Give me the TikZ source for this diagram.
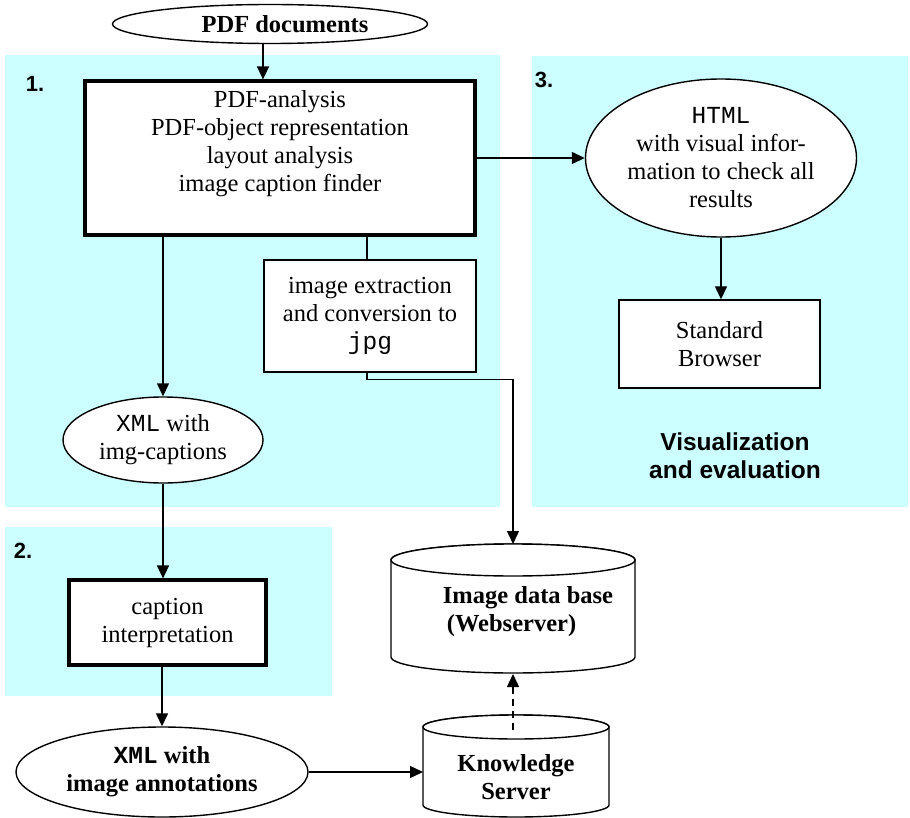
\documentclass[tikz,border=0pt]{standalone}
\usepackage{fontspec}
\setmainfont{Liberation Serif}
\setsansfont{Liberation Sans}
\setmonofont{Liberation Mono}
\usetikzlibrary{shapes.geometric,arrows.meta}
\definecolor{panelcyan}{RGB}{204,255,255}
\begin{document}
\begin{tikzpicture}[x=1pt,y=-1pt,
  every node/.style={font=\fontsize{24.5}{28}\selectfont, align=center},
  boxn/.style={draw, fill=white, line width=1.4pt, inner sep=0pt},
  thickbox/.style={boxn, line width=3.2pt},
  ell/.style={draw, fill=white, ellipse, line width=1.4pt, inner sep=0pt},
  arr/.style={line width=1.4pt, -{Triangle[length=13pt,width=12pt]}},
  conn/.style={line width=1.4pt},
  lbl/.style={font=\sffamily\bfseries\fontsize{22}{26}\selectfont},
  cyl/.style={draw, fill=white, line width=1.4pt}
]
\useasboundingbox (0,0) rectangle (910,818);
% panels
\fill[panelcyan] (5,55) rectangle (500,507);
\fill[panelcyan] (532,56) rectangle (908,507);
\fill[panelcyan] (5,527) rectangle (332,696);

\node[lbl] (l1) at (35,84) {1.};
\node[lbl] (l2) at (23,551) {2.};
\node[lbl] (l3) at (544,80) {3.};

% nodes
\node[ell, minimum width=315pt, minimum height=39pt] (pdf) at (270,24) {\hspace{30pt}\textbf{PDF documents}};
\node[thickbox, minimum width=390pt, minimum height=154pt] (main) at (280,158)
  {PDF-analysis\\PDF-object representation\\layout analysis\\image caption finder\\[6pt]\mbox{}};
\node[ell, minimum width=271pt, minimum height=158pt] (html) at (721,158)
  {\texttt{HTML}\\with visual infor-\\mation to check all\\results};
\node[boxn, minimum width=201pt, minimum height=88pt] (browser) at (719.5,344) {Standard\\Browser};
\node[font=\sffamily\bfseries\fontsize{24.5}{28}\selectfont] (vis) at (735,456) {Visualization\\and evaluation};
\node[boxn, minimum width=212pt, minimum height=112pt] (jpg) at (370,316)
  {image extraction\\and conversion to\\\texttt{jpg}};
\node[ell, minimum width=200pt, minimum height=86pt] (xml1) at (163,440) {\texttt{XML} with\\img-captions};
\node[thickbox, minimum width=197pt, minimum height=85pt] (cap) at (167.5,622.5) {caption\\interpretation};
\node[ell, minimum width=292pt, minimum height=90pt] (xml2) at (162,772)
  {\textbf{\texttt{XML} with}\\\textbf{image annotations}};

% image data base cylinder
\filldraw[cyl] (391,560) -- (391,657) arc[start angle=180,end angle=360,x radius=122pt,y radius=16pt]
  -- (635,560) arc[start angle=0,end angle=180,x radius=122pt,y radius=16pt] -- cycle;
\draw[cyl] (513,560) ellipse[x radius=122pt,y radius=16pt];
\node[align=left] (db) at (528,612) {\textbf{Image data base}\\\hspace{4pt}\textbf{(Webserver)}};
\coordinate (dbtop) at (513,544);
\coordinate (dbbot) at (513,674);

% knowledge server cylinder
\filldraw[cyl] (423,727) -- (423,805) arc[start angle=180,end angle=360,x radius=93pt,y radius=12pt]
  -- (609,727) arc[start angle=0,end angle=180,x radius=93pt,y radius=12pt] -- cycle;
\draw[cyl] (516,727) ellipse[x radius=93pt,y radius=12pt];
\node (ks) at (516,777) {\textbf{Knowledge}\\\textbf{Server}};
\coordinate (kswest) at (423,773);
\coordinate (kstop) at (513,730);

% connectors
\draw[arr] ([xshift=-7pt]pdf.south) -- ([xshift=-17pt]main.north);
\draw[arr] (main.east) -- (html.west);
\draw[arr] (html.south) -- (html.south |- browser.north);
\draw[arr] (xml1.north |- main.south) -- (xml1.north);
\draw[conn] ([xshift=-3pt]jpg.north) -- ([xshift=-3pt]jpg.north |- main.south);
\draw[arr] ([xshift=-3pt]jpg.south) -- ++(0,7) -| (dbtop);
\draw[arr] (xml1.south) -- (xml1.south |- cap.north);
\draw[arr] (xml2.north |- cap.south) -- (xml2.north);
\draw[arr] (xml2.east) -- (xml2.east -| kswest);
\draw[arr, dash pattern=on 7pt off 5pt] (kstop) -- (dbbot);
\end{tikzpicture}
\end{document}
